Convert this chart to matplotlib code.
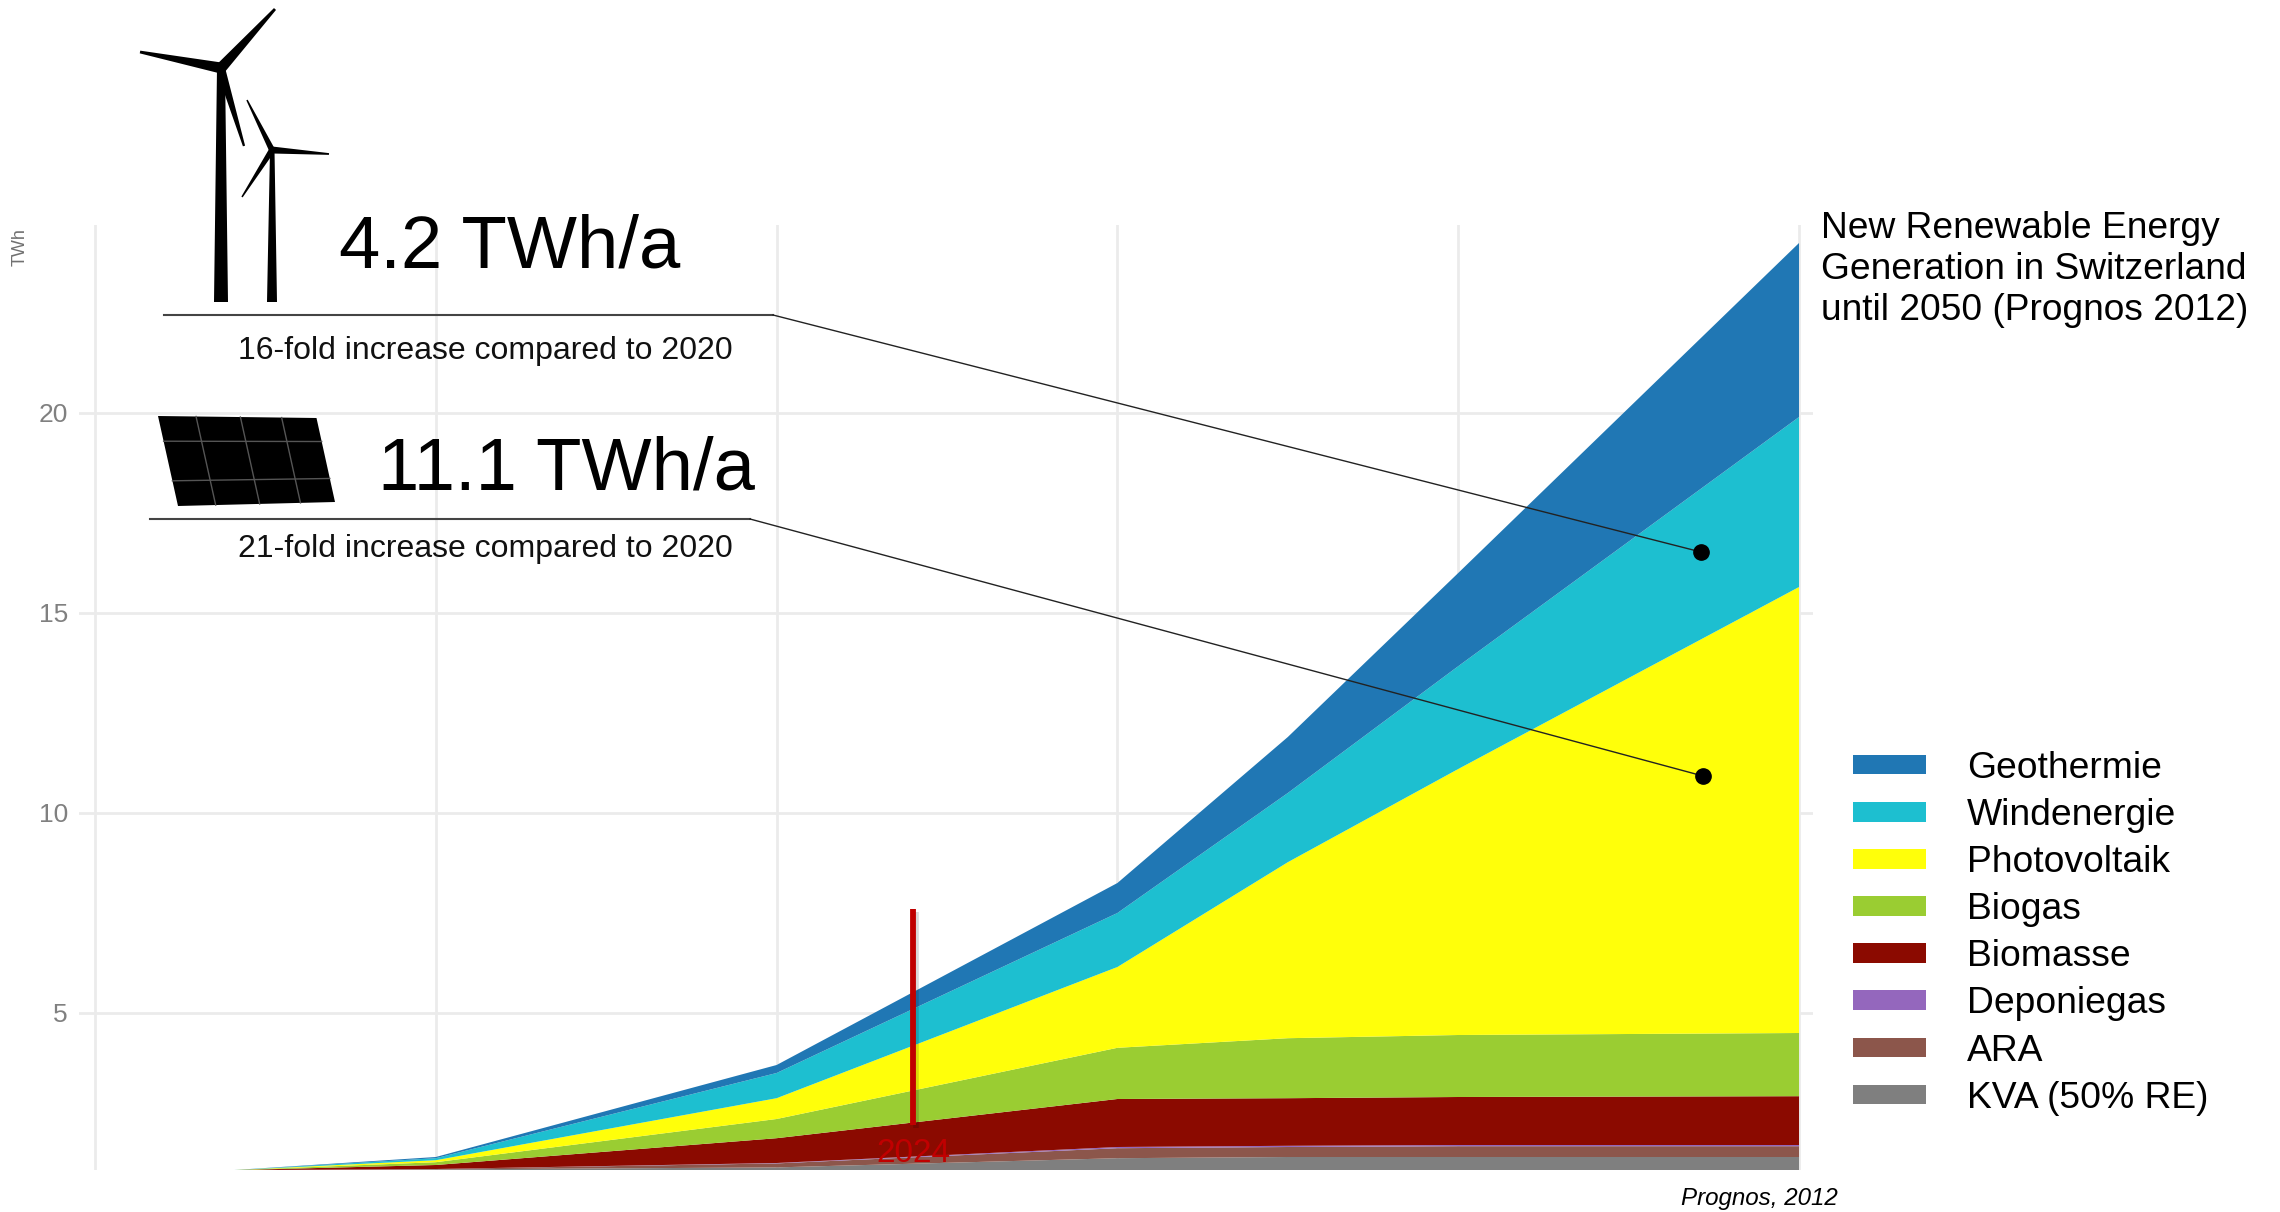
import matplotlib
matplotlib.use("Agg")
import matplotlib.pyplot as plt
from matplotlib.patches import Patch, Polygon

W, H = 2280, 1212
DPI = 100

plt.rcParams['font.family'] = ['Liberation Sans', 'DejaVu Sans']

# TWh per technology (stacked, axis is cut off at the bottom)
years = [2004, 2010, 2020, 2030, 2035, 2040, 2050]
kva = [1.07, 1.09, 1.14, 1.37, 1.40, 1.40, 1.40]
ara = [0.00, 0.01, 0.10, 0.25, 0.25, 0.27, 0.27]
deponiegas = [0.00, 0.00, 0.01, 0.03, 0.03, 0.03, 0.03]
biomasse = [0.00, 0.10, 0.62, 1.20, 1.19, 1.20, 1.22]
biogas = [0.00, 0.07, 0.48, 1.28, 1.50, 1.55, 1.58]
photovoltaik = [0.00, 0.05, 0.52, 2.02, 4.40, 6.65, 11.15]
windenergie = [0.00, 0.05, 0.63, 1.35, 1.73, 2.57, 4.25]
geothermie = [0.00, 0.03, 0.20, 0.75, 1.40, 2.33, 4.35]

labels = ["KVA (50% RE)", "ARA", "Deponiegas", "Biomasse", "Biogas",
          "Photovoltaik", "Windenergie", "Geothermie"]
colors = ["#7F7F7F", "#8C564B", "#9467BD", "#8B0A00", "#9ACD32",
          "#FFFF0A", "#1DBFD0", "#2077B4"]

x_grid = [2000, 2010, 2020, 2030, 2040, 2050]
y_ticks = [5, 10, 15, 20]
marker_year = 2024
marker_top = 7.6
marker_bottom = 2.2

fig = plt.figure(figsize=(W / DPI, H / DPI), dpi=DPI)

# main axes placed by pixel box
left, right, top, bottom = 79, 1813, 225, 1170
ax = fig.add_axes([left / W, 1 - bottom / H, (right - left) / W, (bottom - top) / H])
ax.set_xlim(1999.53, 2050.41)
ax.set_ylim(1.075, 24.7)

ax.stackplot(years, kva, ara, deponiegas, biomasse, biogas, photovoltaik,
             windenergie, geothermie, colors=colors, linewidth=0, zorder=2)

ax.set_xticks(x_grid)
ax.set_yticks(y_ticks)
ax.set_xticklabels([])
ax.set_yticklabels([str(t) for t in y_ticks], fontsize=19, color="#808080")
ax.tick_params(length=0, pad=8)
ax.grid(True, color="#EBEBEB", linewidth=2)
ax.set_axisbelow(True)
for s in ax.spines.values():
    s.set_visible(False)

# today marker with its soft shadow
ax.plot([marker_year + 0.1] * 2, [marker_bottom - 0.08, marker_top - 0.08], color="#000000",
        alpha=0.15, linewidth=4, solid_capstyle='butt', zorder=3)
ax.plot([marker_year] * 2, [marker_bottom, marker_top], color="#C00000", linewidth=4.2,
        solid_capstyle='butt', zorder=4)
ax.text(marker_year, 1.5, str(marker_year), color="#C00000", ha='center', va='center',
        fontsize=24, zorder=5)

# overlay in image pixels for the annotations and icons
ov = fig.add_axes([0, 0, 1, 1], zorder=10)
ov.set_xlim(0, W)
ov.set_ylim(H, 0)
ov.axis('off')
ov.patch.set_alpha(0)


def blade(hub, tip, width):
    """Tapered blade or tower from hub to tip."""
    dx, dy = tip[0] - hub[0], tip[1] - hub[1]
    n = (dx ** 2 + dy ** 2) ** 0.5
    nx, ny = -dy / n * width / 2, dx / n * width / 2
    ov.add_patch(Polygon([(hub[0] + nx, hub[1] + ny), (tip[0] + nx * 0.25, tip[1] + ny * 0.25),
                          (tip[0] - nx * 0.25, tip[1] - ny * 0.25), (hub[0] - nx, hub[1] - ny)],
                         color="black", linewidth=0))


# big turbine
ov.add_patch(Polygon([(217, 68), (225, 68), (228, 302), (214, 302)], color="black", linewidth=0))
blade((221, 68), (140, 52), 11)
blade((221, 68), (275, 9), 11)
blade((221, 70), (244, 146), 9)
# small turbine
ov.add_patch(Polygon([(270, 150), (274.5, 150), (277, 302), (267, 302)], color="black", linewidth=0))
blade((272, 150), (247, 100), 6)
blade((272, 150), (329, 154), 7)
blade((272, 150), (242, 197), 6)

# solar panel
tl, tr, br, bl = (158, 416), (316.5, 418), (335, 502), (178, 506)
ov.add_patch(Polygon([tl, tr, br, bl], color="black", linewidth=0))


def lerp(a, b, t):
    return a[0] + (b[0] - a[0]) * t, a[1] + (b[1] - a[1]) * t


for u in [0.24, 0.52, 0.78]:
    p, q = lerp(tl, tr, u), lerp(bl, br, u)
    ov.plot([p[0], q[0]], [p[1], q[1]], color="#555555", linewidth=1.0)
for v in [0.28, 0.72]:
    p, q = lerp(tl, bl, v), lerp(tr, br, v)
    ov.plot([p[0], q[0]], [p[1], q[1]], color="#555555", linewidth=1.0)

# callouts
ov.text(339, 268, "4.2 TWh/a", fontsize=53.5, va='baseline', color="black")
ov.text(378, 490, "11.1 TWh/a", fontsize=53.5, va='baseline', color="black")
ov.text(238, 351, "16-fold increase compared to 2020", fontsize=23, va='center', color="#111111")
ov.text(238, 549, "21-fold increase compared to 2020", fontsize=23, va='center', color="#111111")

ov.plot([164, 773], [315, 315], color="#444444", linewidth=1.5)
ov.plot([150, 750], [519, 519], color="#444444", linewidth=1.5)
ov.plot([773, 1701], [315, 552], color="#222222", linewidth=1.0)
ov.plot([750, 1703], [519, 776], color="#222222", linewidth=1.0)
ov.plot([1701, 1703], [552, 776], linestyle='none', marker='o', markersize=11, color="black")

# title and source
ov.text(1821, 238, "New Renewable Energy", fontsize=26.7, va='baseline', color="black")
ov.text(1821, 279, "Generation in Switzerland", fontsize=26.7, va='baseline', color="black")
ov.text(1821, 320, "until 2050 (Prognos 2012)", fontsize=26.7, va='baseline', color="black")
ov.text(1681, 1199, "Prognos, 2012", fontsize=17.4, style='italic', va='center', color="black")
ov.text(20, 247, "TWh", fontsize=13, rotation=90, ha='center', va='center', color="#707070")

# legend, top entry first
handles = [Patch(facecolor=c, edgecolor='none', label=l) for c, l in zip(colors[::-1], labels[::-1])]
fig.legend(handles=handles, loc='upper left', bbox_to_anchor=(1853 / W, 1 - 751 / H),
           frameon=False, fontsize=26.8, handlelength=1.96, handleheight=0.43,
           handletextpad=1.10, labelspacing=0.325, borderpad=0, borderaxespad=0)

fig.savefig("out.png", dpi=DPI)
